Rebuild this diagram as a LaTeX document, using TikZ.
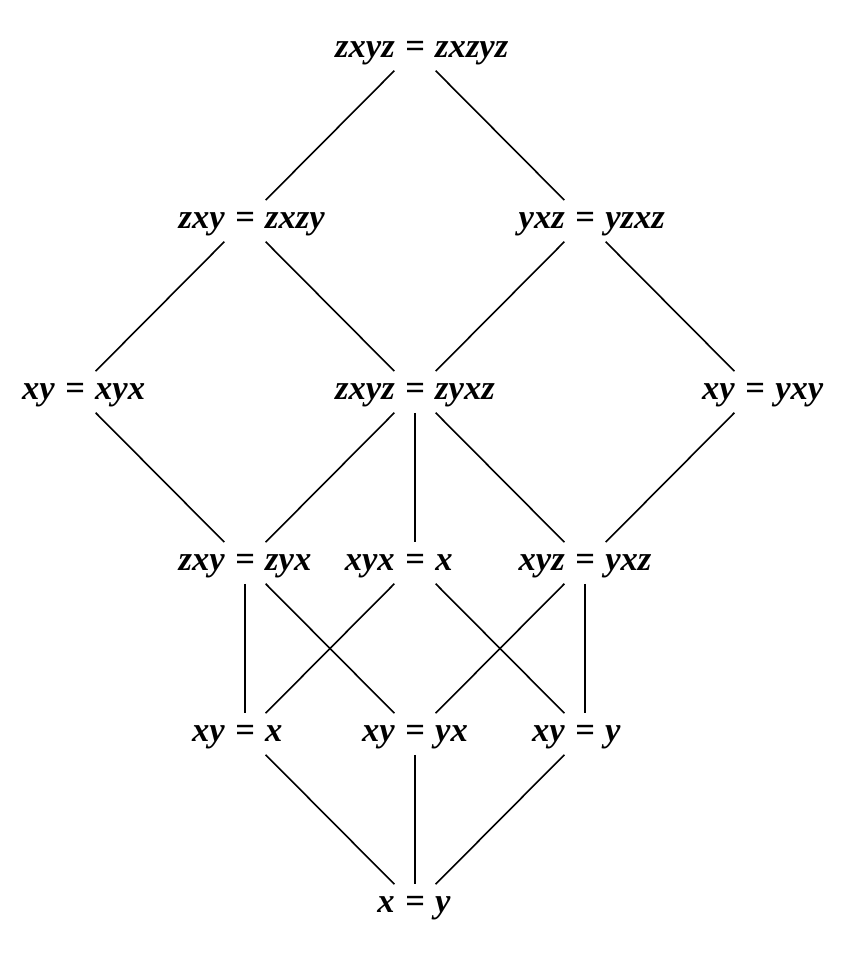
\documentclass[tikz,border=0pt]{standalone}
\usepackage{fontspec}
\setmainfont{Liberation Serif}
\newcommand{\law}[2]{\makebox[0pt][r]{#1}\hspace{0.3em}=\hspace{0.3em}\makebox[0pt][l]{#2}}
\begin{document}
\begin{tikzpicture}[x=85pt, y=85.5pt, line width=0.8pt,
  font=\fontsize{17.3}{20}\selectfont\bfseries\itshape,
  eq/.style={minimum width=60pt, text height=13pt, text depth=5pt, inner xsep=2pt, inner ysep=1pt}]
  \useasboundingbox (-2.441,-0.345) rectangle (2.5,5.292);
  \node[eq] (top) at (0,5) {\law{zxyz}{zxzyz}};
  \node[eq] (zxzy) at (-1,4) {\law{zxy}{zxzy}};
  \node[eq] (yzxz) at (1,4) {\law{yxz}{yzxz}};
  \node[eq] (xyx) at (-2,3) {\law{xy}{xyx}};
  \node[eq] (zyxz) at (0,3) {\law{zxyz}{zyxz}};
  \node[eq] (yxy) at (2,3) {\law{xy}{yxy}};
  \node[eq] (zyx) at (-1,2) {\law{zxy}{zyx}};
  \node[eq] (xyxx) at (0,2) {\law{xyx}{x}};
  \node[eq] (yxz) at (1,2) {\law{xyz}{yxz}};
  \node[eq] (xyeqx) at (-1,1) {\law{xy}{x}};
  \node[eq] (xyeqyx) at (0,1) {\law{xy}{yx}};
  \node[eq] (xyeqy) at (1,1) {\law{xy}{y}};
  \node[eq] (bottom) at (0,0) {\law{x}{y}};

  \draw (top) -- (zxzy);
  \draw (top) -- (yzxz);
  \draw (zxzy) -- (xyx);
  \draw (zxzy) -- (zyxz);
  \draw (yzxz) -- (zyxz);
  \draw (yzxz) -- (yxy);
  \draw (xyx) -- (zyx);
  \draw (zyxz) -- (zyx);
  \draw (zyxz) -- (xyxx);
  \draw (zyxz) -- (yxz);
  \draw (yxy) -- (yxz);
  \draw (zyx) -- (xyeqx);
  \draw (zyx) -- (xyeqyx);
  \draw (xyxx) -- (xyeqx);
  \draw (xyxx) -- (xyeqy);
  \draw (yxz) -- (xyeqyx);
  \draw (yxz) -- (xyeqy);
  \draw (xyeqx) -- (bottom);
  \draw (xyeqyx) -- (bottom);
  \draw (xyeqy) -- (bottom);
\end{tikzpicture}
\end{document}
